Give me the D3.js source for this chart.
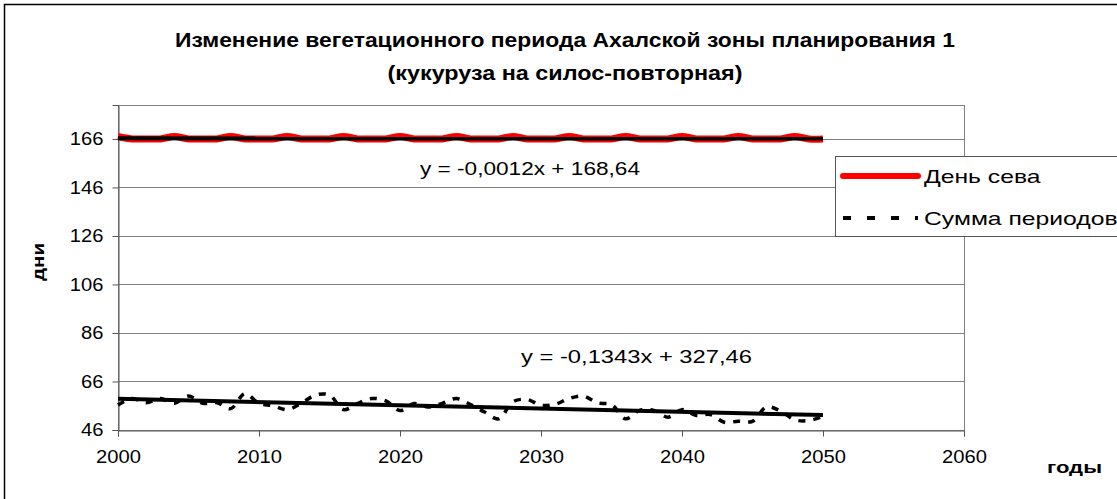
<!DOCTYPE html>
<html>
<head>
<meta charset="utf-8">
<style>
body { margin: 0; background: #fff; }
text { font-family: "Liberation Sans", Arial, sans-serif; fill: #000; }
.grid line { stroke: #808080; stroke-width: 1px; }
</style>
</head>
<body>
<script src="https://cdn.jsdelivr.net/npm/d3@7"></script>
<script>

// data
var years = d3.range(2000, 2051);
var sowDay = [167,166,166,166,167,166,166,166,167,166,166,166,167,166,166,166,167,
              166,166,166,167,166,166,166,167,166,166,166,167,166,166,166,167,166,
              166,166,167,166,166,166,167,166,166,166,167,166,166,166,167,166,166];
var sumPeriods = [56.3,59,57.2,59,57,60,57,57.3,54.8,61,57,56,54.4,57,60.4,60.4,54.4,
                  57,59,58,54,56.9,55.5,57,59,56.5,53.4,50.6,57.6,58.6,56.2,56.6,59,
                  60,57.2,56.5,50.6,54.1,54.1,51.3,54.4,52,52.4,49.2,49.6,49.6,55.5,
                  53.8,50.2,49.9,51.6];
var trendSow = {slope: -0.0012, intercept: 168.64, label: "y = -0,0012x + 168,64"};
var trendSum = {slope: -0.1343, intercept: 327.46, label: "y = -0,1343x + 327,46"};
var yTicks = [46, 66, 86, 106, 126, 146, 166];
var xTicks = [2000, 2010, 2020, 2030, 2040, 2050, 2060];
var titleLines = ["Изменение вегетационного периода Ахалской зоны планирования 1",
                  "(кукуруза на силос-повторная)"];
var legendNames = ["День сева", "Сумма периодов"];

var width = 1117, height = 499;
var plot = {left: 118, right: 964, top: 105, bottom: 430};

// the original text is drawn wider than Arial, stretch it a bit
function stretch(sel, k) {
  sel.each(function() {
    var w = this.getComputedTextLength();
    d3.select(this).attr("textLength", w * k).attr("lengthAdjust", "spacingAndGlyphs");
  });
}

var svg = d3.select("body").append("svg")
    .attr("width", width)
    .attr("height", height);

svg.append("rect").attr("width", width).attr("height", height).attr("fill", "#fff");

// chart area border (runs off the right and bottom)
svg.append("rect")
    .attr("x", 4.5).attr("y", 4.5)
    .attr("width", 1300).attr("height", 700)
    .attr("fill", "none").attr("stroke", "#000").attr("stroke-width", 1.5);

var x = d3.scaleLinear().domain([2000, 2060]).range([plot.left, plot.right]);
var y = d3.scaleLinear().domain([46, 180]).range([plot.bottom, plot.top]);

// gridlines
svg.append("g").attr("class", "grid")
  .selectAll("line").data(yTicks.slice(1)).enter().append("line")
    .attr("x1", plot.left).attr("x2", plot.right)
    .attr("y1", function(d) { return Math.round(y(d)) + 0.5; })
    .attr("y2", function(d) { return Math.round(y(d)) + 0.5; });

// plot border
svg.append("rect")
    .attr("x", plot.left + 0.5).attr("y", plot.top + 0.5)
    .attr("width", plot.right - plot.left).attr("height", plot.bottom - plot.top)
    .attr("fill", "none").attr("stroke", "#808080");

// axes
var yAxis = svg.append("g")
    .attr("transform", "translate(" + (plot.left + 0.5) + ",0)")
    .call(d3.axisLeft(y).tickValues(yTicks).tickSize(6).tickPadding(9).tickFormat(d3.format("d")));
var xAxis = svg.append("g")
    .attr("transform", "translate(0," + (plot.bottom + 0.5) + ")")
    .call(d3.axisBottom(x).tickValues(xTicks).tickSize(6).tickPadding(14).tickFormat(d3.format("d")));
[yAxis, xAxis].forEach(function(a) {
  a.select(".domain").attr("stroke", "#555");
  a.selectAll(".tick line").attr("stroke", "#555");
  a.selectAll(".tick text").style("font-size", "18px").attr("fill", "#000");
  stretch(a.selectAll(".tick text"), 1.12);
});

// series
var line = d3.line()
    .x(function(d, i) { return x(years[i]); })
    .y(function(d) { return y(d); })
    .curve(d3.curveCatmullRom);

svg.append("path").datum(sowDay)
    .attr("d", line)
    .attr("fill", "none").attr("stroke", "#ff0000").attr("stroke-width", 7);

svg.append("path").datum(sumPeriods)
    .attr("d", line)
    .attr("fill", "none").attr("stroke", "#000").attr("stroke-width", 3.5)
    .attr("stroke-dasharray", "7,8");

// trend lines
[trendSow, trendSum].forEach(function(t) {
  svg.append("line")
      .attr("x1", x(2000)).attr("x2", x(2050))
      .attr("y1", y(t.slope * 2000 + t.intercept))
      .attr("y2", y(t.slope * 2050 + t.intercept))
      .attr("stroke", "#000").attr("stroke-width", 4);
});

var eq1 = svg.append("text").attr("x", 420).attr("y", 175).style("font-size", "19px").text(trendSow.label);
var eq2 = svg.append("text").attr("x", 521).attr("y", 363).style("font-size", "19px").text(trendSum.label);
eq1.attr("textLength", 220).attr("lengthAdjust", "spacingAndGlyphs");
eq2.attr("textLength", 231).attr("lengthAdjust", "spacingAndGlyphs");

// title
var titleWidths = [780, 355];
svg.selectAll(".title").data(titleLines).enter().append("text")
    .attr("class", "title")
    .attr("x", 565)
    .attr("y", function(d, i) { return 47 + i * 33; })
    .attr("text-anchor", "middle")
    .style("font-size", "20px").style("font-weight", "bold")
    .attr("textLength", function(d, i) { return titleWidths[i]; })
    .attr("lengthAdjust", "spacingAndGlyphs")
    .text(function(d) { return d; });

// axis titles
svg.append("text")
    .attr("transform", "translate(44,262) rotate(-90)")
    .attr("text-anchor", "middle")
    .style("font-size", "17px").style("font-weight", "bold")
    .attr("textLength", 38).attr("lengthAdjust", "spacingAndGlyphs")
    .text("дни");
svg.append("text")
    .attr("x", 1047).attr("y", 473)
    .style("font-size", "17px").style("font-weight", "bold")
    .attr("textLength", 55).attr("lengthAdjust", "spacingAndGlyphs")
    .text("годы");

// legend
var legend = svg.append("g");
legend.append("rect")
    .attr("x", 835.5).attr("y", 156.5)
    .attr("width", 400).attr("height", 80)
    .attr("fill", "#fff").attr("stroke", "#555");
legend.append("line")
    .attr("x1", 843).attr("x2", 918).attr("y1", 176).attr("y2", 176)
    .attr("stroke", "#ff0000").attr("stroke-width", 6).attr("stroke-linecap", "round");
legend.append("line")
    .attr("x1", 843).attr("x2", 918).attr("y1", 218).attr("y2", 218)
    .attr("stroke", "#000").attr("stroke-width", 4).attr("stroke-dasharray", "8,16");
var lt = legend.selectAll(".lt").data(legendNames).enter().append("text")
    .attr("class", "lt")
    .attr("x", 924)
    .attr("y", function(d, i) { return 183 + i * 42; })
    .style("font-size", "19px")
    .text(function(d) { return d; });
stretch(lt, 1.3);

</script>
</body>
</html>
